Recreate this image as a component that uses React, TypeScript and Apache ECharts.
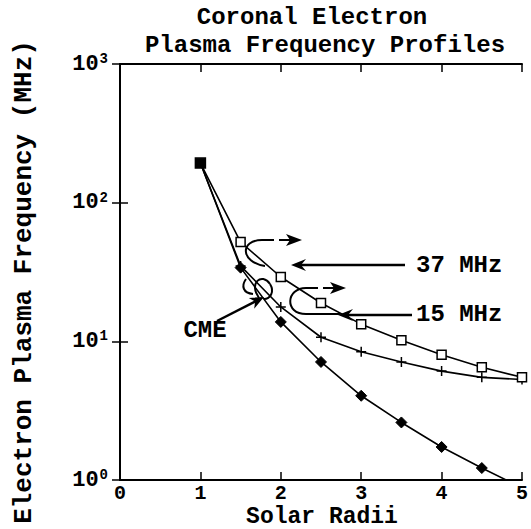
import React, { useEffect, useRef } from "react";
import * as echarts from "echarts";

const radii = [1, 1.5, 2, 2.5, 3, 3.5, 4, 4.5, 5];
const squareSeries = [193, 52, 29.1, 18.9, 13.3, 10.2, 8.0, 6.5, 5.5];
const plusSeries = [193, 35, 17.7, 10.7, 8.4, 7.1, 6.1, 5.5, 5.3];
const diamondSeries = [193, 34, 13.8, 7.1, 4.05, 2.6, 1.73, 1.22, 0.88];
const xTicks = [0, 1, 2, 3, 4, 5];
const titleLines = ["Coronal Electron", "Plasma Frequency Profiles"];
const xName = "Solar Radii";
const yName = "Electron Plasma Frequency (MHz)";
const freqLabels = ["37 MHz", "15 MHz"];
const cmeLabel = "CME";

const FONT = '"Liberation Mono", "Courier New", monospace';

function txt(text: string, x: number, y: number, size: number, align = "center", rotation = 0) {
  return {
    type: "text",
    x,
    y,
    rotation,
    z: 10,
    style: {
      text,
      fontFamily: FONT,
      fontSize: size,
      fontWeight: "bold",
      fill: "#000",
      align,
      verticalAlign: "middle",
    },
  };
}

function line(x1: number, y1: number, x2: number, y2: number, w = 2, dash?: number[]) {
  return {
    type: "line",
    z: 10,
    shape: { x1, y1, x2, y2 },
    style: { stroke: "#000", lineWidth: w, lineDash: dash },
  };
}

function head(points: number[][]) {
  return { type: "polygon", z: 10, shape: { points }, style: { fill: "#000" } };
}

function bez(x1: number, y1: number, cx1: number, cy1: number, cx2: number, cy2: number, x2: number, y2: number, w = 2) {
  return {
    type: "bezierCurve",
    z: 10,
    shape: { x1, y1, cpx1: cx1, cpy1: cy1, cpx2: cx2, cpy2: cy2, x2, y2 },
    style: { stroke: "#000", lineWidth: w, fill: null },
  };
}

export default function App() {
  const ref = useRef<HTMLDivElement>(null);
  useEffect(() => {
    const chart = echarts.init(ref.current!, null, { renderer: "svg" });
    const lineStyle = { color: "#000", width: 1.6 };
    const axisCommon = {
      axisLine: { show: true, lineStyle: { color: "#000", width: 2 } },
      axisTick: { show: true, inside: true, length: 8, lineStyle: { color: "#000", width: 1.5 } },
      splitLine: { show: false },
    };
    const richLabel = {
      b: { fontSize: 22, fontFamily: FONT, fontWeight: "bold", color: "#000" },
      s: { fontSize: 14, fontFamily: FONT, fontWeight: "bold", color: "#000", verticalAlign: "top", padding: [0, 0, 10, 1] },
    };
    const mk = (vals: number[]) => radii.map((x, i) => [x, vals[i]]);

    const option: any = {
      animation: false,
      backgroundColor: "#fff",
      grid: { left: 120, right: 5, top: 64, bottom: 49, containLabel: false },
      xAxis: [
        {
          type: "value",
          min: 0,
          max: 5,
          interval: 1,
          position: "bottom",
          ...axisCommon,
          axisLabel: {
            show: true,
            margin: 3,
            fontFamily: FONT,
            fontSize: 20,
            fontWeight: "bold",
            color: "#000",
            showMinLabel: true,
            showMaxLabel: true,
            formatter: (v: number) => (xTicks.includes(v) ? String(v) : ""),
          },
        },
        {
          type: "value",
          min: 0,
          max: 5,
          interval: 1,
          position: "top",
          ...axisCommon,
          axisLabel: { show: false },
        },
      ],
      yAxis: [
        {
          type: "log",
          logBase: 10,
          min: 1,
          max: 1000,
          position: "left",
          ...axisCommon,
          axisLabel: {
            show: true,
            margin: 12,
            formatter: (v: number) => `{b|10}{s|${Math.round(Math.log10(v))}}`,
            rich: richLabel,
          },
        },
        {
          type: "log",
          logBase: 10,
          min: 1,
          max: 1000,
          position: "right",
          ...axisCommon,
          axisLabel: { show: false },
        },
      ],
      series: [
        {
          type: "line",
          data: mk(squareSeries).map((d, i) =>
            i === 0
              ? { value: d, symbol: "rect", symbolSize: 10, itemStyle: { color: "#000", borderColor: "#000" } }
              : { value: d }
          ),
          symbol: "rect",
          symbolSize: 9,
          lineStyle,
          itemStyle: { color: "#fff", borderColor: "#000", borderWidth: 1.5 },
          z: 4,
        },
        {
          type: "line",
          data: mk(plusSeries).map((d, i) => (i === 0 ? { value: d, symbol: "none" } : { value: d })),
          symbol: "path://M0,5L10,5M5,0L5,10",
          symbolSize: 10,
          lineStyle,
          itemStyle: { color: "#000", borderColor: "#000", borderWidth: 1.5 },
          z: 3,
        },
        {
          type: "line",
          data: mk(diamondSeries).map((d, i) => (i === 0 ? { value: d, symbol: "none" } : { value: d })),
          symbol: "diamond",
          symbolSize: 11,
          lineStyle,
          itemStyle: { color: "#000", borderColor: "#000" },
          clip: true,
          z: 3,
        },
      ],
      graphic: [
        txt(titleLines[0], 312, 17, 24),
        txt(titleLines[1], 325, 45, 24),
        txt(xName, 322, 517, 23),
        txt(yName, 24, 282, 26, "center", Math.PI / 2),
        txt(freqLabels[0], 416, 265, 24, "left"),
        txt(freqLabels[1], 416, 314, 24, "left"),
        txt(cmeLabel, 205, 330, 24),
        // 37 MHz arrow
        line(298, 265, 405, 265, 2.5),
        head([[291, 265], [306, 259], [301, 265], [306, 271]]),
        // 15 MHz arrow
        line(345, 315, 412, 315, 2.5),
        head([[338, 315], [353, 309], [348, 315], [353, 321]]),
        // upper loop
        bez(262, 240, 240, 240, 240, 262, 265, 266),
        line(262, 240, 290, 240, 2, [12, 5]),
        head([[302, 240], [286, 234], [290, 240], [286, 246]]),
        // lower loop
        bez(306, 288, 286, 288, 284, 314, 306, 314),
        line(306, 314, 340, 314, 2),
        line(306, 288, 334, 288, 2, [12, 5]),
        head([[346, 288], [330, 282], [334, 288], [330, 294]]),
        // CME arrow
        line(217, 321, 256, 301, 2.5),
        head([[264, 297], [254.2, 308.7], [255.1, 301.5], [248.8, 297.9]]),
        // CME blob
        bez(259, 298, 248, 283, 262, 272, 270, 284),
        bez(270, 284, 275, 292, 270, 299, 264, 299),
        bez(246, 279, 241, 286, 243, 293, 253, 294),
      ],
    };
    chart.setOption(option);
    return () => chart.dispose();
  }, []);
  return (
    <div
      ref={ref}
      style={{ position: "fixed", left: 0, top: 0, width: 531, height: 529, background: "#fff" }}
    />
  );
}
